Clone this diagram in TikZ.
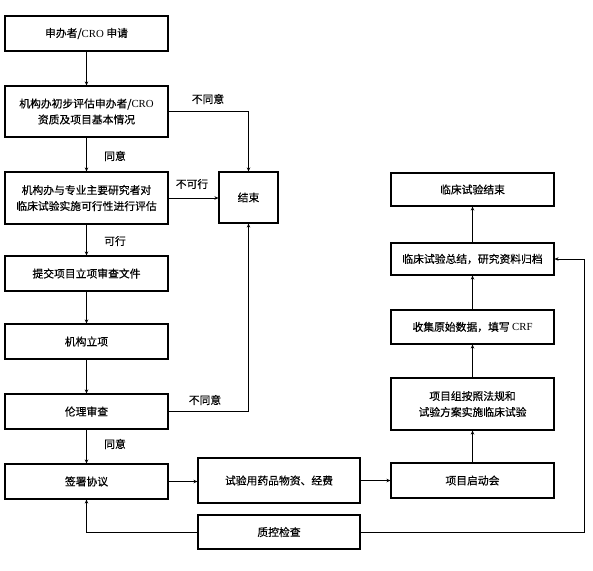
\documentclass[tikz,border=0pt]{standalone}
\usepackage{fontspec}
\setmainfont{Liberation Serif}
\newfontfamily\cjk[FakeBold=0.4]{Noto Sans CJK SC}
\usetikzlibrary{arrows.meta}
\begin{document}
\begin{tikzpicture}[x=1pt,y=-1pt,
  box/.style={draw, line width=1.1pt, inner sep=0pt, align=center, font=\fontsize{10.8}{16}\selectfont\cjk},
  conn/.style={line width=0.9pt, -{Stealth[length=4pt,width=3.5pt]}},
  lbl/.style={font=\fontsize{10.8}{13}\selectfont\cjk, inner sep=0pt}]
\useasboundingbox (0,0) rectangle (593,570);
% left column
\node[box, minimum width=163pt, minimum height=35pt] (b1) at (86.5,33.5) {申办者/{\rmfamily CRO} 申请};
\node[box, minimum width=163pt, minimum height=51pt] (b2) at (86.5,111.5) {机构办初步评估申办者/{\rmfamily CRO}\\资质及项目基本情况};
\node[box, minimum width=163pt, minimum height=52pt] (b3) at (86.5,198) {机构办与专业主要研究者对\\临床试验实施可行性进行评估};
\node[box, minimum width=163pt, minimum height=35pt] (b4) at (86.5,273.5) {提交项目立项审查文件};
\node[box, minimum width=163pt, minimum height=35pt] (b5) at (86.5,341.5) {机构立项};
\node[box, minimum width=163pt, minimum height=35pt] (b6) at (86.5,411.5) {伦理审查};
\node[box, minimum width=163pt, minimum height=35pt] (b7) at (86.5,481.5) {签署协议};
% end
\node[box, minimum width=59pt, minimum height=51pt] (end) at (248.5,197.5) {结束};
% middle
\node[box, minimum width=162pt, minimum height=45pt] (drug) at (279,480.5) {试验用药品物资、经费};
\node[box, minimum width=162pt, minimum height=34pt] (qc) at (279,532) {质控检查};
% right column
\node[box, minimum width=163pt, minimum height=33pt] (r1) at (472.5,189.5) {临床试验结束};
\node[box, minimum width=163pt, minimum height=32pt] (r2) at (472.5,259) {临床试验总结，研究资料归档};
\node[box, minimum width=163pt, minimum height=34pt] (r3) at (472.5,327) {收集原始数据，填写 {\rmfamily CRF}};
\node[box, minimum width=163pt, minimum height=52pt] (r4) at (472.5,404) {项目组按照法规和\\试验方案实施临床试验};
\node[box, minimum width=163pt, minimum height=35pt] (r5) at (472.5,480.5) {项目启动会};
\coordinate (qcr) at (584,532);
% connectors
\draw[conn] (b1) -- (b2);
\draw[conn] (b2) -- (b3);
\draw[conn] (b3) -- (b4);
\draw[conn] (b4) -- (b5);
\draw[conn] (b5) -- (b6);
\draw[conn] (b6) -- (b7);
\draw[conn] (b2.east) -| (end.north);
\draw[conn] (b3.east) -- (b3.east -| end.west);
\draw[conn] (b6.east) -| (end.south);
\draw[conn] (b7.east) -- (b7.east -| drug.west);
\draw[conn] (drug.east) -- (drug.east -| r5.west);
\draw[conn] (r5) -- (r4);
\draw[conn] (r4) -- (r3);
\draw[conn] (r3) -- (r2);
\draw[conn] (r2) -- (r1);
\draw[conn] (qc.west) -| (b7.south);
\draw[conn] (qc.east) -- (qcr) |- (r2.east);
% labels
\node[lbl] (l1) at (208,99) {不同意};
\node[lbl] (l2) at (192,184) {不可行};
\node[lbl] (l3) at (205,400) {不同意};
\node[lbl] (l4) at (115,156) {同意};
\node[lbl] (l5) at (115,241) {可行};
\node[lbl] (l6) at (115,444) {同意};
\end{tikzpicture}
\end{document}
